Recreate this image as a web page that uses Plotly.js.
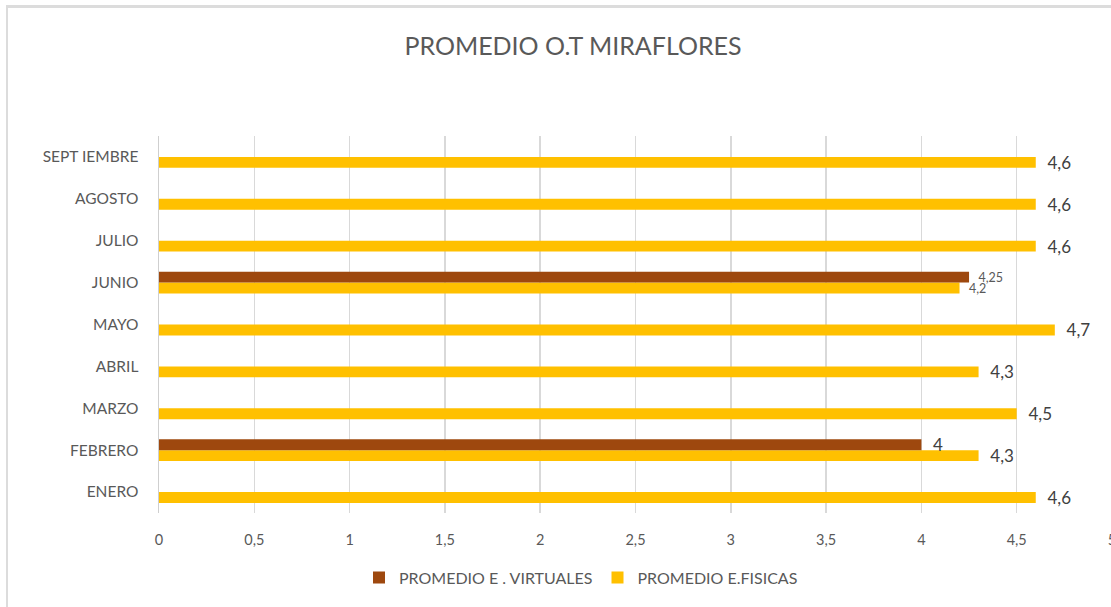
<!DOCTYPE html>
<html>
<head>
<meta charset="utf-8">
<script src="https://cdn.plot.ly/plotly-3.0.1.min.js"></script>
<style>
  html, body { margin:0; padding:0; width:1111px; height:607px; overflow:hidden; background:#fff; }
  #chart { position:absolute; left:0; top:0; width:1150px; height:607px; }
  #frame { position:absolute; left:6px; top:5px; width:1200px; height:700px; border-left:2px solid #dcdcdc; border-top:3px solid #dcdcdc; pointer-events:none; }
</style>
</head>
<body>
<div id="chart"></div>
<div id="frame"></div>
<script>
const months = ['ENERO','FEBRERO','MARZO','ABRIL','MAYO','JUNIO','JULIO','AGOSTO','SEPT IEMBRE'];
const virtuales = [null, 4, null, null, null, 4.25, null, null, null];
const fisicas = [4.6, 4.3, 4.5, 4.3, 4.7, 4.2, 4.6, 4.6, 4.6];
const xTicks = [0, 0.5, 1, 1.5, 2, 2.5, 3, 3.5, 4, 4.5, 5];

const fmt = v => (v === null ? '' : '\u00a0\u00a0' + String(v).replace('.', ','));
const smallIdx = months.indexOf('JUNIO');
const sizes = months.map((m, i) => i === smallIdx ? 12.5 : 17);
const colors = months.map((m, i) => i === smallIdx ? '#595959' : '#404040');

const FONT = 'Lato, "Open Sans", sans-serif';

const traces = [
  {
    type: 'bar', orientation: 'h', name: 'PROMEDIO E.FISICAS',
    y: months, x: fisicas,
    marker: { color: '#FFC000' },
    text: fisicas.map(fmt), textposition: 'outside', cliponaxis: false,
    constraintext: 'none',
    textfont: { size: sizes, color: colors, family: FONT },
    hoverinfo: 'skip'
  },
  {
    type: 'bar', orientation: 'h', name: 'PROMEDIO E . VIRTUALES',
    y: months, x: virtuales,
    marker: { color: '#9E480E' },
    text: virtuales.map(fmt), textposition: 'outside', cliponaxis: false,
    constraintext: 'none',
    textfont: { size: sizes, color: colors, family: FONT },
    hoverinfo: 'skip'
  }
];

const layout = {
  width: 1150, height: 607,
  margin: { l: 159, r: 38, t: 136, b: 92 },
  paper_bgcolor: '#fff', plot_bgcolor: '#fff',
  font: { family: FONT, color: '#595959', size: 14 },
  separators: ', ',
  title: {
    text: 'PROMEDIO O.T MIRAFLORES',
    font: { family: FONT, size: 25, color: '#595959' },
    x: 573 / 1150, xref: 'container', xanchor: 'center',
    y: 1 - 46 / 607, yref: 'container', yanchor: 'middle'
  },
  barmode: 'group', bargap: 0.48, bargroupgap: 0,
  xaxis: {
    range: [0, 5], tickvals: xTicks, ticktext: xTicks.map(v => String(v).replace('.', ',')),
    showgrid: true, gridcolor: '#d9d9d9', gridwidth: 1.5,
    zeroline: false, showline: false, ticks: '',
    ticklabelstandoff: 16, ticklabeloverflow: 'allow',
    tickfont: { size: 14.5, color: '#595959', family: FONT },
    fixedrange: true
  },
  yaxis: {
    type: 'category', categoryorder: 'array', categoryarray: months,
    showgrid: false, zeroline: false, showline: true, linecolor: '#cfcfcf', linewidth: 1.5,
    ticks: '', ticklabelstandoff: 16,
    tickfont: { size: 15.5, color: '#595959', family: FONT },
    fixedrange: true
  },
  showlegend: true,
  legend: {
    orientation: 'h', traceorder: 'reversed',
    x: (581 - 159) / 953, xanchor: 'center',
    y: -(580 - 515) / 379, yanchor: 'middle',
    font: { size: 16, color: '#595959', family: FONT },
    itemwidth: 30
  }
};

Plotly.newPlot('chart', traces, layout, { displayModeBar: false, staticPlot: true });
</script>
</body>
</html>
